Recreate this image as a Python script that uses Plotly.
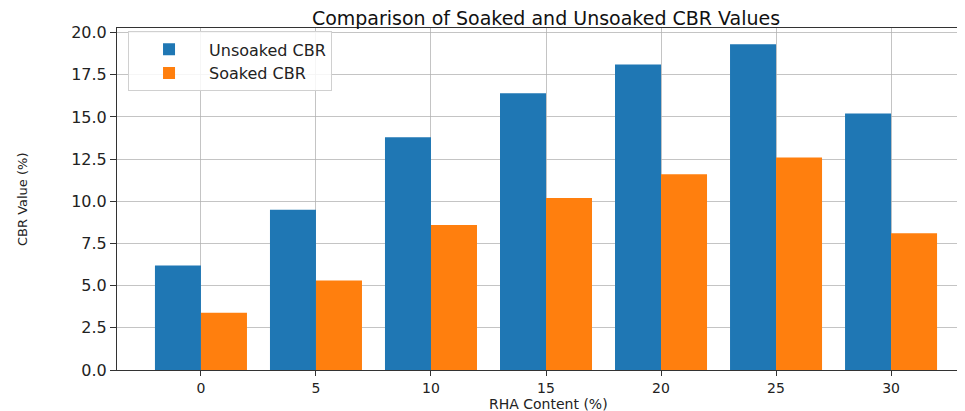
import plotly.graph_objects as go

rha_content = ["0", "5", "10", "15", "20", "25", "30"]
unsoaked_cbr = [6.2, 9.5, 13.8, 16.4, 18.1, 19.3, 15.2]
soaked_cbr = [3.4, 5.3, 8.6, 10.2, 11.6, 12.6, 8.1]
y_ticks = [0, 2.5, 5, 7.5, 10, 12.5, 15, 17.5, 20]
y_tick_labels = ["0.0", "2.5", "5.0", "7.5", "10.0", "12.5", "15.0", "17.5", "20.0"]

# the page body has an 8px default margin, so the figure is offset by 8px
W, H = 957, 403
L, R, T, B = 109, 0, 20, 41

fig = go.Figure()
fig.add_trace(go.Bar(x=rha_content, y=unsoaked_cbr, name="Unsoaked CBR",
                     marker=dict(color="#1f77b4", line=dict(width=0))))
fig.add_trace(go.Bar(x=rha_content, y=soaked_cbr, name="Soaked CBR",
                     marker=dict(color="#ff7f0e", line=dict(width=0))))

fig.update_layout(
    width=W, height=H,
    margin=dict(l=L, r=R, t=T, b=B),
    paper_bgcolor="white", plot_bgcolor="white",
    barmode="group", bargap=0.2, bargroupgap=0,
    font=dict(family="DejaVu Sans", color="#222"),
    title=dict(text="Comparison of Soaked and Unsoaked CBR Values",
               x=538/W, xanchor="center", y=1 - 10/H, yanchor="middle",
               font=dict(size=19, color="#111")),
    legend=dict(x=0.013, y=0.99, xanchor="left", yanchor="top",
                bgcolor="rgba(255,255,255,0.85)", bordercolor="#d0d0d0", borderwidth=1,
                font=dict(size=16, color="#222"), itemwidth=70, tracegroupgap=0,
                itemsizing="constant"),
    showlegend=True,
    annotations=[
        dict(text="CBR Value (%)", xref="paper", yref="paper", x=0, y=0.5,
             xanchor="center", yanchor="middle", xshift=-95, textangle=-90,
             showarrow=False, font=dict(size=13, color="#222",
                                        family="Liberation Sans Narrow, DejaVu Sans")),
        dict(text="RHA Content (%)", xref="paper", yref="paper", x=(540 - L) / (W - L - R), y=0,
             xanchor="center", yanchor="middle", yshift=-34,
             showarrow=False, font=dict(size=14, color="#222")),
    ],
)
fig.update_xaxes(
    type="category", range=[-0.73, 6.643],
    showgrid=True, gridcolor="rgba(176,176,176,0.75)", gridwidth=1,
    showline=True, linecolor="#333", linewidth=1, mirror=True,
    ticks="outside", ticklen=5, tickcolor="#333",
    tickfont=dict(size=14, color="#222"),
    layer="above traces",
)
fig.update_yaxes(
    range=[0, 20.27], tickvals=y_ticks, ticktext=y_tick_labels,
    showgrid=True, gridcolor="rgba(176,176,176,0.75)", gridwidth=1,
    showline=True, linecolor="#333", linewidth=1, zeroline=False,
    ticks="outside", ticklen=6, tickcolor="#333",
    tickfont=dict(size=16, color="#222"),
    layer="above traces",
)

fig.write_html("out.html")
